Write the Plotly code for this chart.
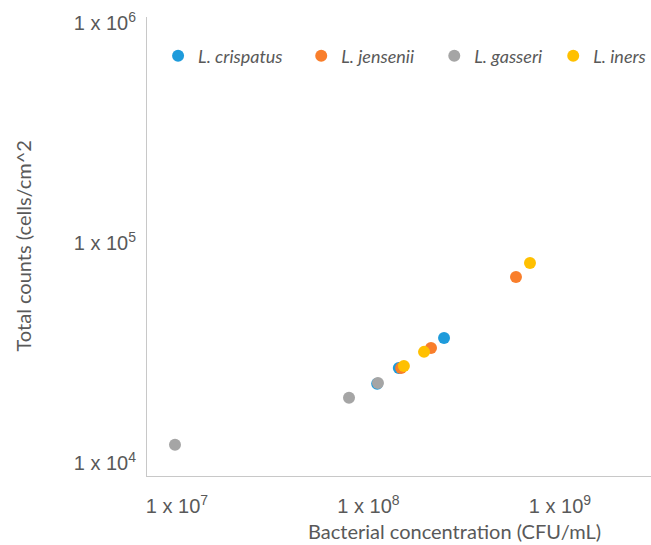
import plotly.graph_objects as go

# Measurements per strain: bacterial concentration (CFU/mL) vs total counts (cells/cm^2)
species = ["L. crispatus", "L. jensenii", "L. gasseri", "L. iners"]
colors = ["#1E9BDB", "#F97E2B", "#A5A5A5", "#FFC000"]

crispatus_cfu = [1.11e8, 1.44e8, 2.48e8]
crispatus_counts = [2.29e4, 2.70e4, 3.70e4]

jensenii_cfu = [1.48e8, 2.12e8, 5.89e8]
jensenii_counts = [2.70e4, 3.33e4, 7.01e4]

gasseri_cfu = [9.76e6, 7.91e7, 1.12e8]
gasseri_counts = [1.21e4, 1.98e4, 2.31e4]

iners_cfu = [1.53e8, 1.95e8, 6.97e8]
iners_counts = [2.76e4, 3.20e4, 8.11e4]

x_tick_vals = [1e7, 1e8, 1e9]
x_tick_text = ["1 x 10<sup>7</sup>", "1 x 10<sup>8</sup>", "1 x 10<sup>9</sup>"]
y_tick_vals = [1e4, 1e5, 1e6]
y_tick_text = ["1 x 10<sup>4</sup>", "1 x 10<sup>5</sup>", "1 x 10<sup>6</sup>"]

series_x = [crispatus_cfu, jensenii_cfu, gasseri_cfu, iners_cfu]
series_y = [crispatus_counts, jensenii_counts, gasseri_counts, iners_counts]

# One legend box per series so the entries sit in a single spaced row
legend_ids = ["legend", "legend2", "legend3", "legend4"]
legend_x = [0.022, 0.306, 0.570, 0.806]

axis_color = "#C8C8C8"
label_color = "#595959"
tick_font = dict(family="Arial", size=20, color=label_color)
title_font = dict(family="Lato", size=20, color=label_color)
legend_font = dict(family="Lato", size=18, color=label_color, style="italic")

fig = go.Figure()
for name, col, xs, ys, lid in zip(species, colors, series_x, series_y, legend_ids):
    fig.add_trace(go.Scatter(
        x=xs, y=ys, mode="markers", name=name, legend=lid,
        marker=dict(size=12, color=col, line=dict(width=0)),
    ))

fig.update_xaxes(
    type="log", range=[6.8433, 9.4752],
    tickvals=x_tick_vals, ticktext=x_tick_text, tickfont=tick_font,
    showgrid=False, zeroline=False,
    showline=True, linecolor=axis_color, linewidth=1,
    ticks="outside", ticklen=12, tickcolor="rgba(0,0,0,0)",
)
fig.update_yaxes(
    type="log", range=[3.9409, 6.0273],
    tickvals=y_tick_vals, ticktext=y_tick_text, tickfont=tick_font,
    showgrid=False, zeroline=False,
    showline=True, linecolor=axis_color, linewidth=1,
    ticks="outside", ticklen=6, tickcolor="rgba(0,0,0,0)",
)

# Axis titles
fig.add_annotation(
    text="Bacterial concentration (CFU/mL)",
    xref="paper", yref="paper", x=0.611, y=-0.119,
    xanchor="center", yanchor="middle", showarrow=False, font=title_font,
)
fig.add_annotation(
    text="Total counts (cells/cm^2",
    xref="paper", yref="paper", x=-0.248, y=0.5, textangle=-90,
    xanchor="center", yanchor="middle", showarrow=False, font=title_font,
)

legend_layout = {}
for lid, lx in zip(legend_ids, legend_x):
    legend_layout[lid] = dict(
        orientation="h", x=lx, y=0.915, xanchor="left", yanchor="middle",
        font=legend_font, bgcolor="rgba(0,0,0,0)", itemwidth=30,
    )

fig.update_layout(
    width=651, height=545,
    margin=dict(l=147, r=0, t=17, b=69, autoexpand=False),
    paper_bgcolor="white", plot_bgcolor="white",
    showlegend=True,
    **legend_layout,
)

fig.write_html("out.html")
